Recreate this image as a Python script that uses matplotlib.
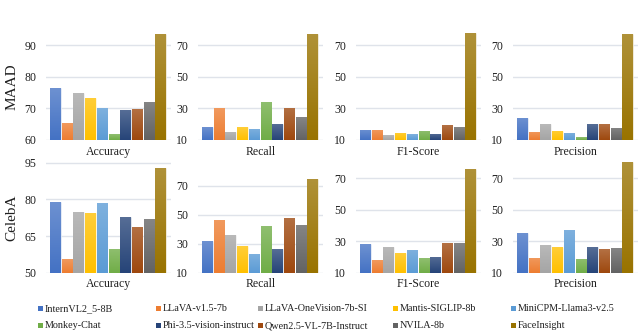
import numpy as np
import matplotlib
matplotlib.use("Agg")
import matplotlib.pyplot as plt
from matplotlib.patches import Rectangle
from matplotlib.colors import to_rgb


# models and their colours (office palette)
models = ["InternVL2_5-8B", "LLaVA-v1.5-7b", "LLaVA-OneVision-7b-SI", "Mantis-SIGLIP-8b",
          "MiniCPM-Llama3-v2.5", "Monkey-Chat", "Phi-3.5-vision-instruct",
          "Qwen2.5-VL-7B-Instruct", "NVILA-8b", "FaceInsight"]
colors = ["#4472C4", "#ED7D31", "#A5A5A5", "#FFC000", "#5B9BD5",
          "#70AD47", "#264478", "#9E480E", "#636363", "#997300"]

metrics = ["Accuracy", "Recall", "F1-Score", "Precision"]
datasets = ["MAAD", "CelebA"]

# values
maad_accuracy = [76.3, 65.3, 74.7, 73.3, 70.0, 61.8, 69.4, 69.7, 72.1, 93.6]
maad_recall = [18.2, 30.0, 15.1, 18.2, 17.2, 34.2, 20.1, 30.4, 24.3, 77.2]
maad_f1 = [16.5, 16.5, 12.9, 14.6, 13.6, 15.9, 14.0, 19.3, 18.2, 77.6]
maad_precision = [23.9, 15.1, 20.1, 15.7, 14.6, 11.7, 20.1, 20.1, 17.8, 77.2]

celeba_accuracy = [79.1, 55.7, 74.7, 74.3, 78.5, 59.9, 72.8, 68.8, 72.0, 92.7]
celeba_recall = [31.9, 46.7, 35.9, 28.5, 23.2, 42.1, 26.6, 48.1, 43.3, 74.9]
celeba_f1 = [28.0, 17.8, 26.3, 22.5, 24.6, 19.1, 20.2, 28.6, 28.6, 75.9]
celeba_precision = [35.1, 19.6, 27.4, 26.2, 37.4, 18.9, 26.2, 25.1, 25.7, 80.0]

maad_values = [maad_accuracy, maad_recall, maad_f1, maad_precision]
celeba_values = [celeba_accuracy, celeba_recall, celeba_f1, celeba_precision]

# axis ranges and ticks of each panel
maad_ylims = [(60, 93.8), (10, 77.6), (10, 77.6), (10, 77.6)]
maad_ticks = [[60, 70, 80, 90], [10, 30, 50, 70], [10, 30, 50, 70], [10, 30, 50, 70]]
celeba_ylims = [(50, 95.3), (10, 86.6), (10, 80.2), (10, 80.3)]
celeba_ticks = [[50, 65, 80, 95], [10, 30, 50, 70], [10, 30, 50, 70], [10, 30, 50, 70]]


plt.rcParams['font.family'] = ['Liberation Serif', 'DejaVu Serif']
text_color = "#1f1f1f"
grid_color = "#dfe3ea"

W, H = 640, 331
fig = plt.figure(figsize=(W / 100, H / 100), dpi=100)

# pixel layout of the panels
panel_left = [46, 198, 356, 513]
panel_width = 125
row_top = [33, 162]
row_bottom = [140, 272.7]


def draw_panel(ax, values, ylim, ticks, title):
    x = np.arange(len(values))
    bars = ax.bar(x, values, width=0.9, color=colors, edgecolor="white",
                  linewidth=0.5, zorder=3)

    # excel-like gradient: lighter at the top of each bar
    for rect, col in zip(bars, colors):
        base = np.array(to_rgb(col))
        light = base + (1 - base) * 0.22
        t = np.linspace(0, 1, 64)[:, None, None]
        img = light[None, None, :] * (1 - t) + base[None, None, :] * t
        x0 = rect.get_x()
        x1 = x0 + rect.get_width()
        im = ax.imshow(img, extent=[x0, x1, ylim[0], rect.get_height()],
                       aspect="auto", origin="upper", zorder=3.5)
        im.set_clip_path(rect)

    ax.set_xlim(-0.79, 9.89)
    ax.set_ylim(*ylim)
    ax.set_yticks(ticks)
    ax.set_xticks([])
    ax.grid(axis="y", color=grid_color, linewidth=1.0, zorder=0)
    for s in ax.spines.values():
        s.set_visible(False)
    ax.tick_params(axis="y", length=0, pad=7, labelsize=8.5, labelcolor=text_color)
    ax.set_xlabel(title, fontsize=8.5, color=text_color, labelpad=4)


for r, (name, vals, ylims, ticks) in enumerate(zip(datasets,
                                                  [maad_values, celeba_values],
                                                  [maad_ylims, celeba_ylims],
                                                  [maad_ticks, celeba_ticks])):
    for c in range(4):
        ax = fig.add_axes([panel_left[c] / W, 1 - row_bottom[r] / H,
                           panel_width / W, (row_bottom[r] - row_top[r]) / H])
        draw_panel(ax, vals[c], ylims[c], ticks[c], metrics[c])
    yc = 1 - (row_top[r] + row_bottom[r]) / 2 / H
    fig.text(12 / W, yc, name, rotation=90, ha="center", va="center",
             fontsize=11, color=text_color)


# legend drawn by hand (Excel style, uneven columns)
legend_x = [40, 158, 260, 395, 513]
legend_y = [308.5, 325.5]
for i, (m, col) in enumerate(zip(models, colors)):
    row, cl = divmod(i, 5)
    xm = legend_x[cl]
    ym = legend_y[row]
    fig.add_artist(Rectangle(((xm - 2.5) / W, 1 - (ym + 2.5) / H), 5 / W, 5 / H,
                             transform=fig.transFigure, facecolor=col,
                             edgecolor="none"))
    fig.text((xm + 5) / W, 1 - ym / H, m, ha="left", va="center",
             fontsize=7.3, color=text_color)

plt.savefig("out.png", dpi=100)
plt.close(fig)
